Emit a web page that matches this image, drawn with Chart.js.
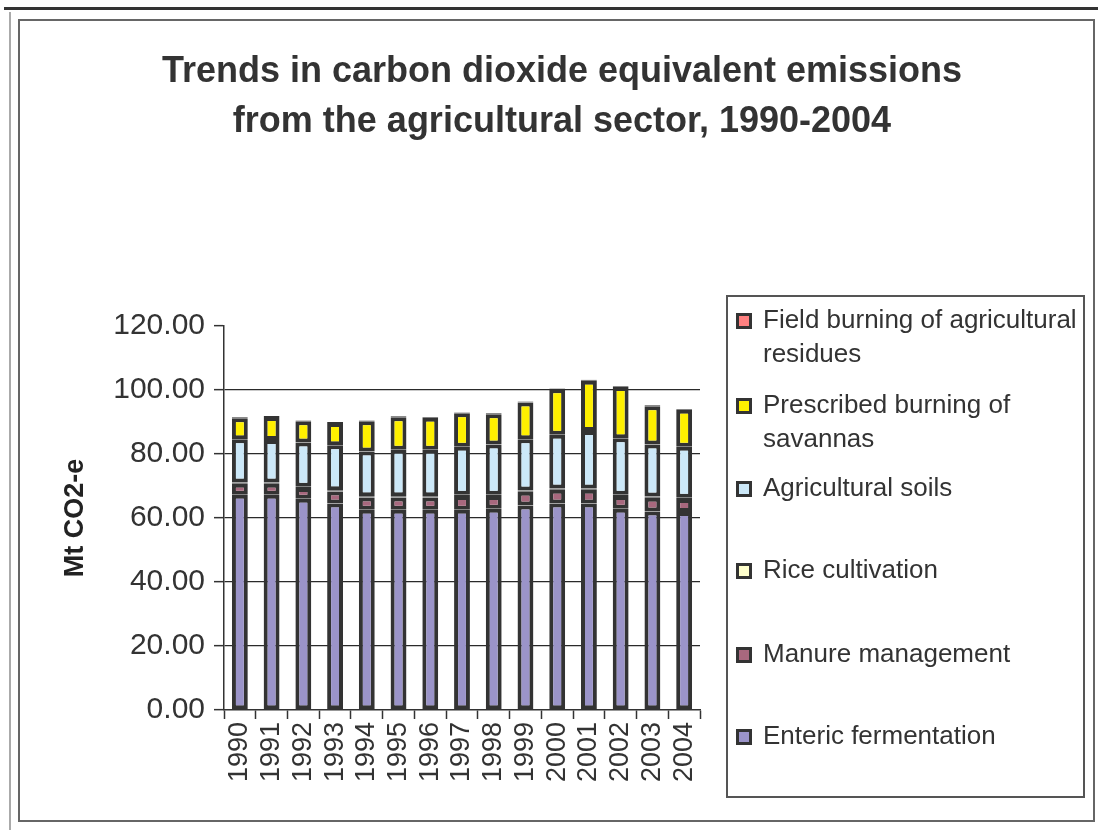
<!DOCTYPE html>
<html>
<head>
<meta charset="utf-8">
<title>Agricultural sector emissions 1990-2004</title>
<script src="https://cdn.jsdelivr.net/npm/chart.js@4.4.1/dist/chart.umd.min.js"></script>
<style>
  html, body { margin: 0; padding: 0; background: #fff; }
  body { width: 1098px; height: 830px; position: relative; overflow: hidden; }
  #topline { position: absolute; left: 4px; top: 7px; width: 1094px; height: 3px; background: #333; }
  #leftline { position: absolute; left: 9px; top: 12px; width: 2px; height: 818px; background: #aaa; }
  #frame { position: absolute; left: 18px; top: 19px; width: 1073px; height: 799px; border: 2px solid #666; }
  #wrap { position: absolute; left: 0; top: 0; width: 1098px; height: 830px; }
</style>
</head>
<body>
<div id="topline"></div>
<div id="leftline"></div>
<div id="frame"></div>
<div id="wrap"><canvas id="graficaEmisiones" width="1098" height="830"></canvas></div>

<script>
// datos (Mt CO2-e)
const years = ['1990', '1991', '1992', '1993', '1994', '1995', '1996', '1997', '1998', '1999', '2000', '2001', '2002', '2003', '2004'];
const enteric  = [67.3, 67.3, 66.0, 64.5, 62.6, 62.6, 62.6, 62.6, 62.9, 63.9, 64.5, 64.5, 62.9, 62.0, 61.9];
const manure   = [3.4, 3.4, 3.4, 3.8, 3.8, 3.8, 3.8, 4.3, 4.0, 4.3, 4.3, 4.3, 4.0, 4.3, 4.0];
const rice     = [0.4, 0.4, 0.4, 0.4, 0.4, 0.4, 0.4, 0.4, 0.4, 0.4, 0.4, 0.4, 0.4, 0.4, 0.4];
const soils    = [13.5, 13.3, 13.8, 14.0, 14.0, 14.5, 14.5, 15.0, 15.7, 16.0, 16.8, 18.0, 17.6, 16.3, 16.0];
const savannas = [6.6, 7.2, 6.6, 7.0, 9.4, 10.2, 10.0, 10.4, 9.4, 11.5, 14.2, 15.7, 16.0, 11.9, 11.5];
const fieldBurning = [0.3, 0.3, 0.3, 0.3, 0.3, 0.3, 0.3, 0.3, 0.3, 0.3, 0.3, 0.3, 0.3, 0.3, 0.3];
const yTicks = [0, 20, 40, 60, 80, 100, 120];

const titleLines = ['Trends in carbon dioxide equivalent emissions', 'from the agricultural sector, 1990-2004'];

const FONT = "'Liberation Sans', Arial, sans-serif";
const BORDE = '#333333';

function serie(label, data, color) {
    return {
        label: label,
        data: data,
        backgroundColor: color,
        borderColor: BORDE,
        borderWidth: 4,
        borderSkipped: false,
        barPercentage: 0.5,
        categoryPercentage: 1.0
    };
}

// titulo y leyenda dibujados a mano
const decoPlugin = {
    id: 'deco',
    afterDraw(chart) {
        const ctx = chart.ctx;
        ctx.save();
        ctx.fillStyle = '#333';
        ctx.textAlign = 'center';
        ctx.textBaseline = 'alphabetic';
        ctx.font = 'bold 36px ' + FONT;
        ctx.fillText(titleLines[0], 562, 82);
        ctx.fillText(titleLines[1], 562, 132);

        // caja de la leyenda
        ctx.strokeStyle = '#555';
        ctx.lineWidth = 2;
        ctx.strokeRect(727, 296, 357, 501);

        const baselines = [328, 413, 496, 578, 662, 744];
        const items = chart.data.datasets.slice().reverse();
        ctx.font = '26px ' + FONT;
        ctx.textAlign = 'left';
        items.forEach((ds, i) => {
            const y = baselines[i];
            ctx.fillStyle = BORDE;
            ctx.fillRect(736, y - 15, 16, 16);
            ctx.fillStyle = ds.backgroundColor;
            ctx.fillRect(739, y - 12, 10, 10);
            // partir el texto si no cabe
            const words = ds.label.split(' ');
            let line = '';
            let ly = y;
            ctx.fillStyle = '#333';
            words.forEach(w => {
                const test = line ? line + ' ' + w : w;
                if (ctx.measureText(test).width > 318 && line) {
                    ctx.fillText(line, 763, ly);
                    line = w;
                    ly += 34;
                } else {
                    line = test;
                }
            });
            ctx.fillText(line, 763, ly);
        });
        ctx.restore();
    }
};

const ctx = document.getElementById('graficaEmisiones').getContext('2d');
new Chart(ctx, {
    type: 'bar',
    data: {
        labels: years,
        datasets: [
            serie('Enteric fermentation', enteric, '#9b94c9'),
            serie('Manure management', manure, '#a8687e'),
            serie('Rice cultivation', rice, '#ffffcc'),
            serie('Agricultural soils', soils, '#cce8f8'),
            serie('Prescribed burning of savannas', savannas, '#fff000'),
            serie('Field burning of agricultural residues', fieldBurning, '#ff8080')
        ]
    },
    options: {
        responsive: false,
        animation: false,
        layout: { padding: { left: 50, right: 398, top: 326, bottom: 0 } },
        plugins: {
            legend: { display: false },
            title: { display: false },
            tooltip: { enabled: false }
        },
        scales: {
            x: {
                stacked: true,
                afterFit(scale) { scale.height = 120; },
                border: { color: '#333', width: 1.5 },
                grid: {
                    drawOnChartArea: false,
                    offset: true,
                    tickLength: 9,
                    tickColor: '#333',
                    tickWidth: 1.5
                },
                ticks: {
                    minRotation: 90,
                    maxRotation: 90,
                    autoSkip: false,
                    padding: 3,
                    color: '#333',
                    font: { family: FONT, size: 27 }
                }
            },
            y: {
                stacked: true,
                min: 0,
                max: 120,
                afterFit(scale) { scale.width = 174; },
                afterBuildTicks(scale) { scale.ticks = yTicks.map(v => ({ value: v })); },
                border: { color: '#333', width: 1.5 },
                grid: {
                    color: c => (c.tick && (c.tick.value === 120 || c.tick.value === 0)) ? 'rgba(0,0,0,0)' : '#2a2a2a',
                    lineWidth: 1.3,
                    tickLength: 10,
                    tickColor: '#333',
                    tickWidth: 1.5
                },
                ticks: {
                    padding: 9,
                    color: '#333',
                    font: { family: FONT, size: 30 },
                    callback: v => Number(v).toFixed(2)
                },
                title: {
                    display: true,
                    text: 'Mt CO2-e',
                    color: '#222',
                    font: { family: FONT, size: 27, weight: 'bold' },
                    padding: { top: 9, bottom: 0 }
                }
            }
        }
    },
    plugins: [decoPlugin]
});
</script>
</body>
</html>
